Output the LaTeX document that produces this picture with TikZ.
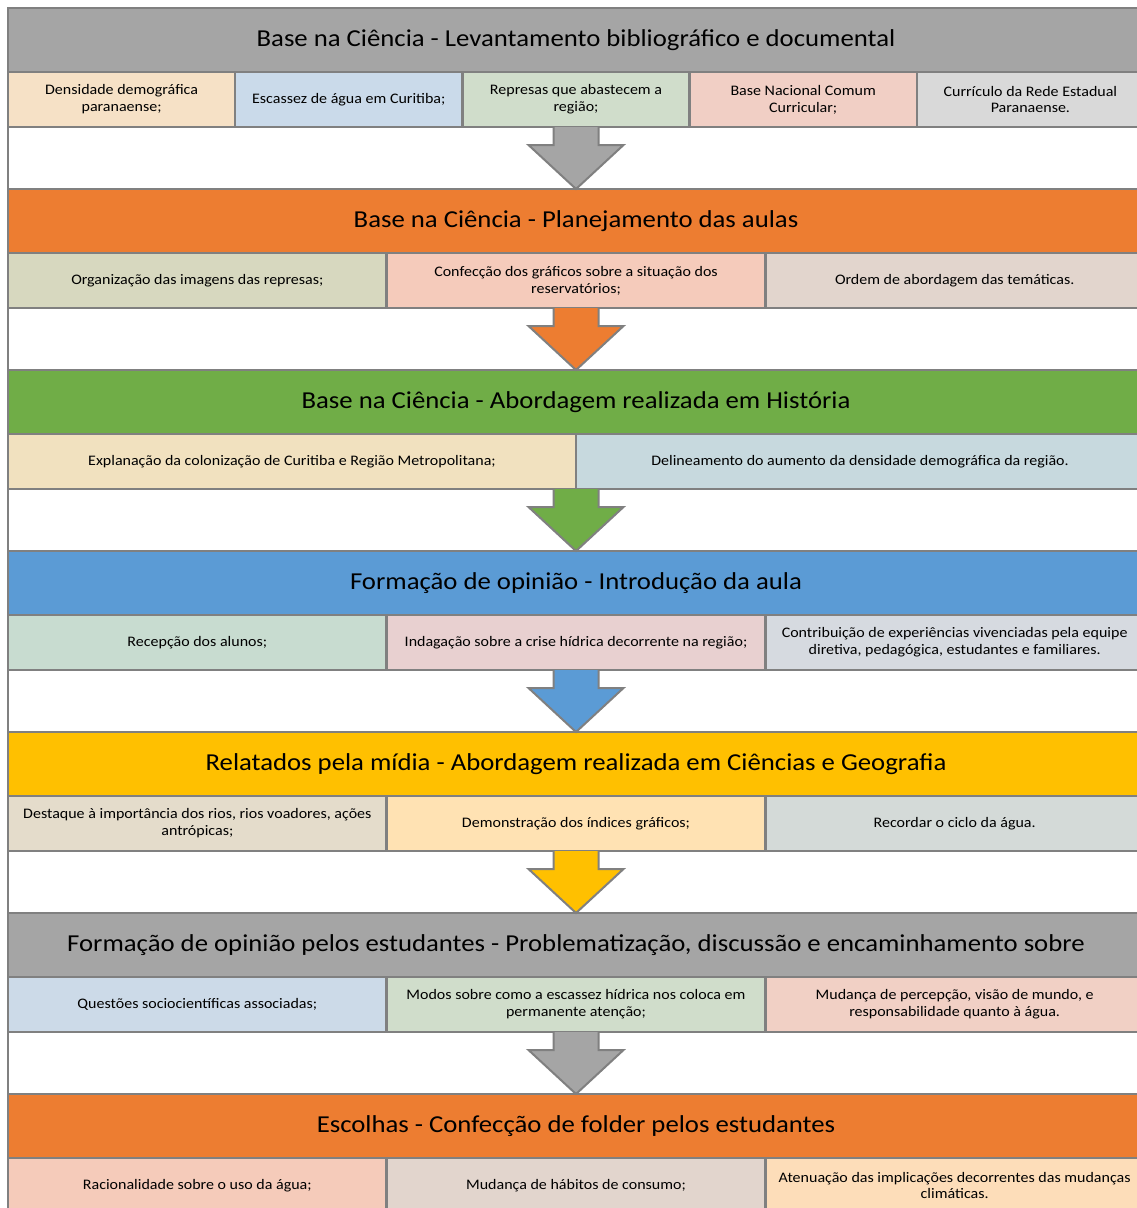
\documentclass[tikz,border=0pt]{standalone}
\usepackage{fontspec}
\setmainfont{Carlito}[FakeStretch=1.1]
\usetikzlibrary{calc}
\definecolor{bordergray}{HTML}{808080}
\definecolor{hgray}{HTML}{A5A5A5}
\definecolor{horange}{HTML}{ED7D31}
\definecolor{hgreen}{HTML}{70AD47}
\definecolor{hblue}{HTML}{5B9BD5}
\definecolor{hyellow}{HTML}{FFC000}
% sub cell colours
\definecolor{aA}{HTML}{F6E1C6}
\definecolor{aB}{HTML}{CADAEA}
\definecolor{aC}{HTML}{D0DDCB}
\definecolor{aD}{HTML}{F1CFC5}
\definecolor{aE}{HTML}{D9D9D9}
\definecolor{bA}{HTML}{D7D8BF}
\definecolor{bB}{HTML}{F5CBBB}
\definecolor{bC}{HTML}{E2D5CD}
\definecolor{cA}{HTML}{F1E1BF}
\definecolor{cB}{HTML}{C7D9DE}
\definecolor{dA}{HTML}{C8DCD0}
\definecolor{dB}{HTML}{E8D0D0}
\definecolor{dC}{HTML}{D6DAE0}
\definecolor{eA}{HTML}{E4DCCB}
\definecolor{eB}{HTML}{FFE2B3}
\definecolor{eC}{HTML}{D4DAD8}
\definecolor{fA}{HTML}{CCDAE8}
\definecolor{fB}{HTML}{D0DDCB}
\definecolor{fC}{HTML}{F1D0C5}
\definecolor{gA}{HTML}{F5CBBA}
\definecolor{gB}{HTML}{E2D5CD}
\definecolor{gC}{HTML}{FDDDB9}
\newcommand{\blockarr}[3]{%
  \fill[#3] ($(#1)+(-22.5,0)$) -- ($(#1)+(-22.5,18)$) -- ($(#1)+(-47.5,18)$) -- (#2)
     -- ($(#1)+(47.5,18)$) -- ($(#1)+(22.5,18)$) -- ($(#1)+(22.5,0)$) -- cycle;
  \draw[arrline] ($(#1)+(-22.5,0)$) -- ($(#1)+(-22.5,18)$) -- ($(#1)+(-47.5,18)$) -- (#2)
     -- ($(#1)+(47.5,18)$) -- ($(#1)+(22.5,18)$) -- ($(#1)+(22.5,0)$);}
\begin{document}
\begin{tikzpicture}[x=1bp,y=-1bp,
  hdr/.style={draw=bordergray, line width=2.5bp, minimum height=64bp, minimum width=1136bp,
    anchor=north west, inner sep=0pt, outer sep=0pt, font=\fontsize{24.4}{28}\selectfont},
  cell/.style={draw=bordergray, line width=2.5bp, minimum height=55bp,
    anchor=north west, inner sep=0pt, outer sep=0pt, align=center, font=\fontsize{14.6}{17}\selectfont},
  five/.style={cell, minimum width=227.2bp},
  three/.style={cell, minimum width=378.67bp},
  two/.style={cell, minimum width=568bp},
  arrline/.style={draw=bordergray, line width=2bp, line join=miter}]
\useasboundingbox (0,0) rectangle (1137,1208);
\clip (0,0) rectangle (1137,1208);
\fill[white] (0,0) rectangle (1137,1208);
\draw[bordergray, line width=2.5bp] (8,8) rectangle (1144,1230);

% Section 1
\node[hdr, fill=hgray] (h1) at (8,8) {Base na Ciência - Levantamento bibliográfico e documental};
\node[five, fill=aA] (s11) at (8,72) {Densidade demográfica\\paranaense;};
\node[five, fill=aB] (s12) at (235.2,72) {Escassez de água em Curitiba;};
\node[five, fill=aC] (s13) at (462.4,72) {Represas que abastecem a\\região;};
\node[five, fill=aD] (s14) at (689.6,72) {Base Nacional Comum\\Curricular;};
\node[five, fill=aE] (s15) at (916.8,72) {Currículo da Rede Estadual\\Paranaense.};

% Section 2
\node[hdr, fill=horange] (h2) at (8,189) {Base na Ciência - Planejamento das aulas};
\node[three, fill=bA] (s21) at (8,253) {Organização das imagens das represas;};
\node[three, fill=bB] (s22) at (386.67,253) {Confecção dos gráficos sobre a situação dos\\reservatórios;};
\node[three, fill=bC] (s23) at (765.33,253) {Ordem de abordagem das temáticas.};

% Section 3
\node[hdr, fill=hgreen] (h3) at (8,370) {Base na Ciência - Abordagem realizada em História};
\node[two, fill=cA] (s31) at (8,434) {Explanação da colonização de Curitiba e Região Metropolitana;};
\node[two, fill=cB] (s32) at (576,434) {Delineamento do aumento da densidade demográfica da região.};

% Section 4
\node[hdr, fill=hblue] (h4) at (8,551) {Formação de opinião - Introdução da aula};
\node[three, fill=dA] (s41) at (8,615) {Recepção dos alunos;};
\node[three, fill=dB] (s42) at (386.67,615) {Indagação sobre a crise hídrica decorrente na região;};
\node[three, fill=dC] (s43) at (765.33,615) {Contribuição de experiências vivenciadas pela equipe\\diretiva, pedagógica, estudantes e familiares.};

% Section 5
\node[hdr, fill=hyellow] (h5) at (8,732) {Relatados pela mídia - Abordagem realizada em Ciências e Geografia};
\node[three, fill=eA] (s51) at (8,796) {Destaque à importância dos rios, rios voadores, ações\\antrópicas;};
\node[three, fill=eB] (s52) at (386.67,796) {Demonstração dos índices gráficos;};
\node[three, fill=eC] (s53) at (765.33,796) {Recordar o ciclo da água.};

% Section 6
\node[hdr, fill=hgray] (h6) at (8,913) {Formação de opinião pelos estudantes - Problematização, discussão e encaminhamento sobre};
\node[three, fill=fA] (s61) at (8,977) {Questões sociocientíficas associadas;};
\node[three, fill=fB] (s62) at (386.67,977) {Modos sobre como a escassez hídrica nos coloca em\\permanente atenção;};
\node[three, fill=fC] (s63) at (765.33,977) {Mudança de percepção, visão de mundo, e\\responsabilidade quanto à água.};

% Section 7
\node[hdr, fill=horange] (h7) at (8,1094) {Escolhas - Confecção de folder pelos estudantes};
\node[three, fill=gA] (s71) at (8,1158) {Racionalidade sobre o uso da água;};
\node[three, fill=gB] (s72) at (386.67,1158) {Mudança de hábitos de consumo;};
\node[three, fill=gC] (s73) at (765.33,1158) {Atenuação das implicações decorrentes das mudanças\\climáticas.};

% Arrows
\coordinate (a1) at ($(h1.south)+(0,55)$);
\coordinate (a2) at ($(h2.south)+(0,55)$);
\coordinate (a3) at ($(h3.south)+(0,55)$);
\coordinate (a4) at ($(h4.south)+(0,55)$);
\coordinate (a5) at ($(h5.south)+(0,55)$);
\coordinate (a6) at ($(h6.south)+(0,55)$);
\blockarr{a1}{h2.north}{hgray}
\blockarr{a2}{h3.north}{horange}
\blockarr{a3}{h4.north}{hgreen}
\blockarr{a4}{h5.north}{hblue}
\blockarr{a5}{h6.north}{hyellow}
\blockarr{a6}{h7.north}{hgray}
\end{tikzpicture}
\end{document}
